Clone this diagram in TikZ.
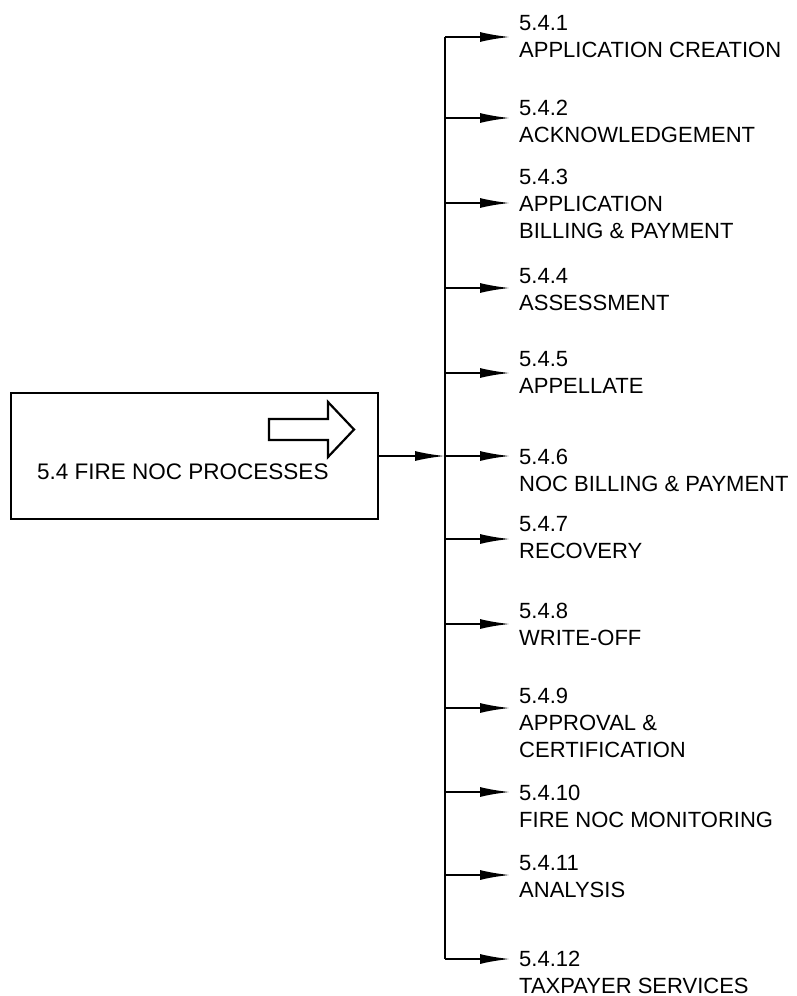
\documentclass[tikz,border=0pt]{standalone}
\usepackage{fontspec}
\setmainfont{Liberation Sans}
\usetikzlibrary{arrows.meta}

\tikzset{
  item/.style={anchor=base west,align=left,inner sep=0pt,
    font=\fontsize{22}{27}\selectfont},
  branch/.style={-{Latex[length=30pt,width=10pt]},line width=2pt},
}

\begin{document}
\begin{tikzpicture}[x=1pt,y=-1pt]
    \useasboundingbox (0,0) rectangle (797,996);
    % process box
    \node (FNP) at (194.5,456) [rectangle,draw=black,line width=2.2pt,minimum width=367pt,minimum height=126pt] {};
    \node (FNPtext) at (37,479) [item,font=\fontsize{22.5}{27}\selectfont] {5.4 FIRE NOC PROCESSES};
    \draw[line width=2.2pt] (269,419) -- (328,419) -- (328,402) -- (354,429.5)
      -- (328,457) -- (328,440) -- (269,440) -- cycle;
    % trunk
    \coordinate (top) at (445,37);
    \coordinate (mid) at (445,456);
    \coordinate (bot) at (445,959);
    \draw[line width=2pt] (top) -- (bot);
    \draw[branch] (FNP.east |- mid) -- (mid);
    % sub processes (anchored on the last line)
    \node (A1) at (519,57) [item] {5.4.1\\APPLICATION CREATION};
    \node (A2) at (519,142) [item] {5.4.2\\ACKNOWLEDGEMENT};
    \node (A3) at (519,238) [item] {5.4.3\\APPLICATION\\BILLING \& PAYMENT};
    \node (A4) at (519,310) [item] {5.4.4\\ASSESSMENT};
    \node (A5) at (519,393) [item] {5.4.5\\APPELLATE};
    \node (A6) at (519,491) [item] {5.4.6\\NOC BILLING \& PAYMENT};
    \node (A7) at (519,558) [item] {5.4.7\\RECOVERY};
    \node (A8) at (519,645) [item] {5.4.8\\WRITE-OFF};
    \node (A9) at (519,757) [item] {5.4.9\\APPROVAL \&\\CERTIFICATION};
    \node (A10) at (519,827) [item] {5.4.10\\FIRE NOC MONITORING};
    \node (A11) at (519,897) [item] {5.4.11\\ANALYSIS};
    \node (A12) at (519,993) [item] {5.4.12\\TAXPAYER SERVICES};
    % branches
    \draw[branch] (top) -- +(65,0);
    \draw[branch] (445,118) -- +(65,0);
    \draw[branch] (445,203) -- +(65,0);
    \draw[branch] (445,288) -- +(65,0);
    \draw[branch] (445,373) -- +(65,0);
    \draw[branch] (mid) -- +(65,0);
    \draw[branch] (445,539) -- +(65,0);
    \draw[branch] (445,624) -- +(65,0);
    \draw[branch] (445,708) -- +(65,0);
    \draw[branch] (445,792) -- +(65,0);
    \draw[branch] (445,875) -- +(65,0);
    \draw[branch] (bot) -- +(65,0);
\end{tikzpicture}
\end{document}
